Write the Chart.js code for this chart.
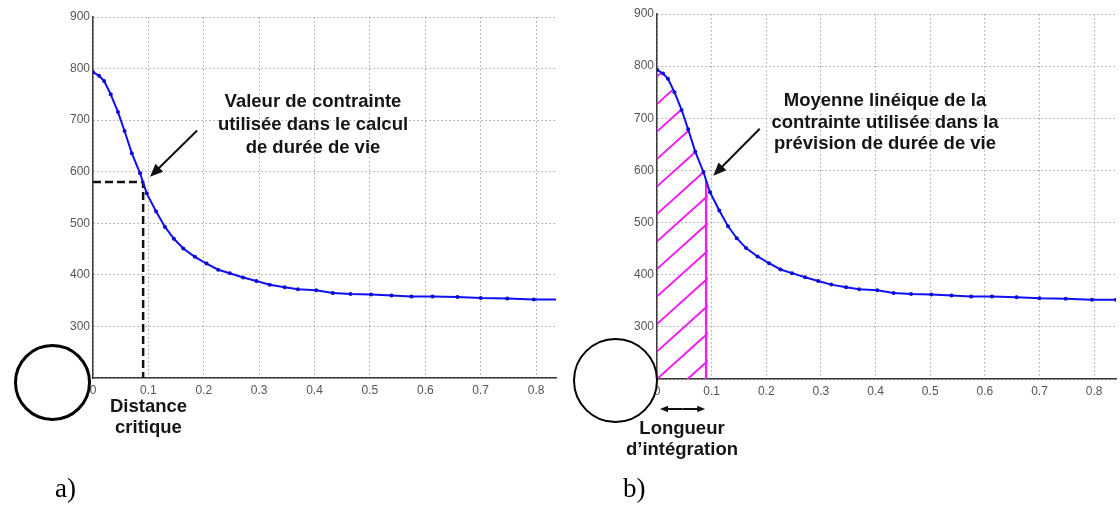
<!DOCTYPE html>
<html>
<head>
<meta charset="utf-8">
<script src="https://cdn.jsdelivr.net/npm/chart.js@4.4.1/dist/chart.umd.min.js"></script>
<style>
body { margin:0; background:#fff; width:1120px; height:506px; overflow:hidden; position:relative; font-family:Arial, "Liberation Sans", sans-serif; }
canvas { position:absolute; top:0; }
#graph-a { left:0; }
#graph-b { left:560px; }
.note { position:absolute; font-weight:bold; font-size:18.5px; color:#151515; text-align:center; white-space:nowrap; }
.lbl { position:absolute; font-family:"Liberation Serif", "Times New Roman", serif; font-size:27px; line-height:1; color:#000; }
.ring { position:absolute; border-radius:50%; background:#fff; border:3px solid #000; box-sizing:border-box; }
</style>
</head>
<body>
<canvas id="graph-a" width="560" height="506"></canvas>
<canvas id="graph-b" width="560" height="506"></canvas>

<div class="note" style="left:163px;top:88.5px;width:300px;line-height:23px;">Valeur de contrainte<br>utilisée dans le calcul<br>de durée de vie</div>
<div class="note" style="left:68.5px;top:394.5px;width:160px;line-height:21.5px;">Distance<br>critique</div>
<div class="note" style="left:735px;top:89px;width:300px;line-height:21.5px;">Moyenne linéique de la<br>contrainte utilisée dans la<br>prévision de durée de vie</div>
<div class="note" style="left:602px;top:418px;width:160px;line-height:20.5px;">Longueur<br>d’intégration</div>

<div class="ring" style="left:13.5px;top:343.5px;width:77px;height:77px;"></div>
<div class="ring" style="left:572.5px;top:337.5px;width:85px;height:85px;border-width:2.5px;"></div>

<div class="lbl" style="left:55px;top:475px;">a)</div>
<div class="lbl" style="left:623px;top:475px;">b)</div>

<script>
// profil de contrainte en fonction de la distance
var distance = [0, 0.011, 0.02, 0.032, 0.045, 0.057, 0.07, 0.085, 0.097, 0.114, 0.13, 0.146, 0.163, 0.184, 0.205, 0.226, 0.247, 0.271, 0.295, 0.319, 0.346, 0.37, 0.403, 0.433, 0.465, 0.502, 0.539, 0.575, 0.613, 0.658, 0.70, 0.748, 0.796, 0.84];
var stress = [793, 786, 776, 750, 716, 679, 636, 597, 558, 523, 493, 470, 451, 435, 422, 410, 403, 395, 388, 381, 376, 372, 370, 365, 363, 362, 360, 358, 358, 357, 355, 354, 352, 352];

var critDistance = 0.0905;
var critStress = 580;
var integLength = 0.09;
var arrowTail = [0.188, 680];
var arrowHead = [0.103, 590];

var yMin = 200, yMax = 900, yStep = 100;
var xStep = 0.1;

var curve = distance.map(function(d, i) { return {x: d, y: stress[i]}; });

function drawArrow(ctx, x1, y1, x2, y2, head) {
	var a = Math.atan2(y2 - y1, x2 - x1);
	var c = Math.cos(a), s = Math.sin(a);
	ctx.beginPath();
	ctx.moveTo(x1, y1);
	ctx.lineTo(x2 - c * head * 0.8, y2 - s * head * 0.8);
	ctx.stroke();
	ctx.beginPath();
	ctx.moveTo(x2, y2);
	ctx.lineTo(x2 - head * c + head * 0.42 * s, y2 - head * s - head * 0.42 * c);
	ctx.lineTo(x2 - head * c - head * 0.42 * s, y2 - head * s + head * 0.42 * c);
	ctx.closePath();
	ctx.fill();
}

var pointerPlugin = {
	id: 'pointer',
	afterDraw: function(chart) {
		var ctx = chart.ctx, xs = chart.scales.x, ys = chart.scales.y;
		ctx.save();
		ctx.strokeStyle = '#111';
		ctx.fillStyle = '#111';
		ctx.lineWidth = 2;
		drawArrow(ctx, xs.getPixelForValue(arrowTail[0]), ys.getPixelForValue(arrowTail[1]),
			xs.getPixelForValue(arrowHead[0]), ys.getPixelForValue(arrowHead[1]), 13);
		ctx.restore();
	}
};

var hatchPlugin = {
	id: 'hatch',
	beforeDatasetsDraw: function(chart) {
		var ctx = chart.ctx, xs = chart.scales.x, area = chart.chartArea;
		var pts = chart.getDatasetMeta(0).data;
		var x0 = xs.getPixelForValue(0), x1 = xs.getPixelForValue(integLength);
		var bottom = area.bottom;
		ctx.save();
		ctx.beginPath();
		ctx.rect(x0, area.top, x1 - x0 + 1.5, bottom - area.top);
		ctx.clip();
		ctx.beginPath();
		pts.forEach(function(p, i) {
			if (i === 0) ctx.moveTo(p.x, p.y); else ctx.lineTo(p.x, p.y);
		});
		ctx.lineTo(pts[pts.length - 1].x, bottom);
		ctx.lineTo(pts[0].x, bottom);
		ctx.closePath();
		ctx.clip();
		ctx.strokeStyle = '#f01ef0';
		ctx.lineWidth = 2;
		ctx.beginPath();
		var slope = 0.9, gap = 27.5, w = x1 - x0 + 20;
		for (var k = -3; k < 20; k++) {
			var y = bottom - k * gap;
			ctx.moveTo(x0 - 10, y + 10 * slope);
			ctx.lineTo(x0 + w, y - w * slope);
		}
		ctx.stroke();
		ctx.lineWidth = 2.5;
		ctx.beginPath();
		ctx.moveTo(x1, bottom);
		ctx.lineTo(x1, area.top);
		ctx.stroke();
		ctx.restore();
	},
	afterDraw: function(chart) {
		var ctx = chart.ctx, xs = chart.scales.x, area = chart.chartArea;
		var xa = xs.getPixelForValue(0) + 3, xb = xs.getPixelForValue(integLength) - 1;
		var y = area.bottom + 30;
		ctx.save();
		ctx.strokeStyle = '#111';
		ctx.fillStyle = '#111';
		ctx.lineWidth = 2;
		var mid = (xa + xb) / 2;
		drawArrow(ctx, mid, y, xb, y, 8);
		drawArrow(ctx, mid, y, xa, y, 8);
		ctx.restore();
	}
};

function makeOptions(padTop, padRight, padBottom, yWidth, xMax) {
	return {
		responsive: false,
		animation: false,
		devicePixelRatio: 1,
		layout: { padding: { left: 0, top: padTop, right: padRight, bottom: padBottom } },
		plugins: { legend: { display: false }, tooltip: { enabled: false } },
		scales: {
			x: {
				type: 'linear',
				min: 0,
				max: xMax,
				afterFit: function(scale) { scale.height = 22; },
				grid: { color: '#a8a8a8', lineWidth: 1, drawTicks: false },
				border: { color: '#3a3a3a', width: 1.5, dash: [1.5, 2.5] },
				ticks: {
					stepSize: xStep,
					includeBounds: false,
					padding: 5,
					color: '#555',
					font: { size: 12 },
					maxRotation: 0,
					callback: function(v) { return v === 0 ? '0' : v.toFixed(1); }
				}
			},
			y: {
				min: yMin,
				max: yMax,
				afterFit: function(scale) { scale.width = yWidth; },
				grid: { color: '#a8a8a8', lineWidth: 1, drawTicks: false },
				border: { color: '#3a3a3a', width: 1.5, dash: [1.5, 2.5] },
				ticks: {
					stepSize: yStep,
					padding: 3,
					color: '#555',
					font: { size: 12 },
					callback: function(v) { return v === yMin ? '' : v; }
				}
			}
		}
	};
}

Chart.defaults.font.family = 'Arial, "Liberation Sans", sans-serif';

var curveSet = {
	data: curve,
	borderColor: '#1010f5',
	borderWidth: 2,
	pointRadius: 2,
	pointBackgroundColor: '#0a0ad0',
	pointBorderWidth: 0,
	tension: 0
};

var graph_a = new Chart(document.getElementById('graph-a'), {
	type: 'line',
	data: {
		datasets: [
			curveSet,
			{
				data: [{x: 0, y: critStress}, {x: critDistance, y: critStress}, {x: critDistance, y: yMin}],
				borderColor: '#111',
				borderWidth: 2.5,
				borderDash: [8, 4],
				pointRadius: 0,
				tension: 0
			}
		]
	},
	options: makeOptions(17, 3, 106, 93, 0.836),
	plugins: [pointerPlugin]
});

var graph_b = new Chart(document.getElementById('graph-b'), {
	type: 'line',
	data: {
		datasets: [Object.assign({}, curveSet, { data: curve })]
	},
	options: makeOptions(14, 0, 105, 97, 0.84),
	plugins: [hatchPlugin, pointerPlugin]
});
</script>
</body>
</html>
